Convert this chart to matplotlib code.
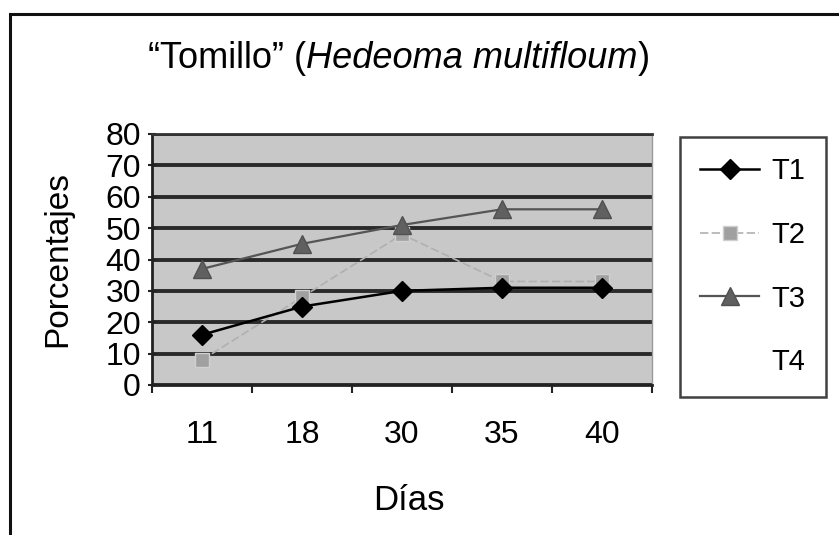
import matplotlib
matplotlib.use("Agg")
import matplotlib.pyplot as plt
from matplotlib.lines import Line2D
from matplotlib.patches import Rectangle

plt.rcParams['font.family'] = ['Liberation Sans', 'DejaVu Sans']

dias = ["11", "18", "30", "35", "40"]
t1 = [16, 25, 30, 31, 31]
t2 = [8, 28, 48, 33, 33]
t3 = [37, 45, 51, 56, 56]
series_names = ["T1", "T2", "T3", "T4"]
yticks = [0, 10, 20, 30, 40, 50, 60, 70, 80]

W, H = 839, 535
fig = plt.figure(figsize=(W / 100, H / 100), dpi=100)
fig.patch.set_facecolor("white")

# outer frame (extends beyond right and bottom edges like the scan)
fig.patches.append(Rectangle((10 / W, -0.1), 1.2, (H - 14) / H + 0.1,
                             transform=fig.transFigure, fill=False,
                             edgecolor="#111111", linewidth=2.2))

ax = fig.add_axes([152 / W, 1 - 385 / H, 500 / W, 251 / H])
ax.set_facecolor("#c8c8c8")
x = list(range(len(dias)))

ax.plot(x, t1, color="black", lw=1.8, marker="D", markersize=10,
        markerfacecolor="black", markeredgecolor="black", zorder=5)
ax.plot(x, t2, color="#b0b0b0", lw=1.2, ls=(0, (5, 2)), marker="s", markersize=10,
        markerfacecolor="#a0a0a0", markeredgecolor="#d0d0d0", zorder=4)
ax.plot(x, t3, color="#555555", lw=1.6, marker="^", markersize=13,
        markerfacecolor="#606060", markeredgecolor="#505050", zorder=4)

ax.set_xlim(-0.5, len(dias) - 0.5)
ax.set_ylim(0, 80)
ax.set_yticks(yticks)
ax.set_yticklabels([str(v) for v in yticks], fontsize=23)
ax.set_xticks([i + 0.5 for i in range(-1, len(dias))], minor=False)
ax.set_xticklabels([])
ax.set_xticks(x, minor=True)
ax.set_xticklabels(dias, minor=True, fontsize=23)
ax.tick_params(axis="x", which="minor", length=0, pad=25)
ax.tick_params(axis="x", which="major", length=6, width=1.5, direction="out", color="#222222")
ax.tick_params(axis="y", length=6, width=1.5, direction="inout", color="#222222", pad=5)

ax.yaxis.grid(True, color="#2a2a2a", linewidth=2.8)
ax.set_axisbelow(True)
for s in ["left", "bottom"]:
    ax.spines[s].set_color("#222222")
    ax.spines[s].set_linewidth(2.0)
ax.spines["top"].set_color("#333333")
ax.spines["top"].set_linewidth(2.0)
ax.spines["right"].set_color("#999999")
ax.spines["right"].set_linewidth(1.0)

ax.set_ylabel("Porcentajes", fontsize=24)
ax.yaxis.set_label_coords((58 - 152) / 500, 0.5)
ax.yaxis.label.set_va("center")
ax.set_xlabel("Días", fontsize=25)
ax.xaxis.set_label_coords((409 - 152) / 500, -(500 - 385) / 251)
ax.xaxis.label.set_va("center")

# title with italic species name
t_a = fig.text(148 / W, 1 - 58 / H, "\u201cTomillo\u201d (", fontsize=26, va="center", ha="left")
t_b = fig.text(0, 0, "Hedeoma multifloum", fontsize=26, style="italic", va="bottom", ha="left")
fig.canvas.draw()
r = fig.canvas.get_renderer()
bb = t_a.get_window_extent(r)
t_b.set_position((bb.x1 / W, bb.y0 / H))
bb2 = t_b.get_window_extent(r)
t_c = fig.text(bb2.x1 / W, bb.y0 / H, ")", fontsize=26, va="bottom", ha="left")

# legend
handles = [
    Line2D([], [], color="black", lw=1.8, marker="D", markersize=10, markerfacecolor="black"),
    Line2D([], [], color="#b0b0b0", lw=1.2, ls=(0, (5, 2)), marker="s", markersize=10,
           markerfacecolor="#a0a0a0", markeredgecolor="#d0d0d0"),
    Line2D([], [], color="#555555", lw=1.6, marker="^", markersize=13,
           markerfacecolor="#606060", markeredgecolor="#505050"),
    Line2D([], [], color="none", lw=0),
]
leg = fig.legend(handles, series_names, loc="upper left",
                 bbox_to_anchor=(680 / W, 1 - 137 / H), fontsize=21,
                 frameon=True, fancybox=False, edgecolor="#111111",
                 handlelength=2.0, labelspacing=1.22, borderpad=0.7,
                 handletextpad=0.45, borderaxespad=0)
leg.get_frame().set_linewidth(1.8)

fig.savefig("out.png", dpi=100)
